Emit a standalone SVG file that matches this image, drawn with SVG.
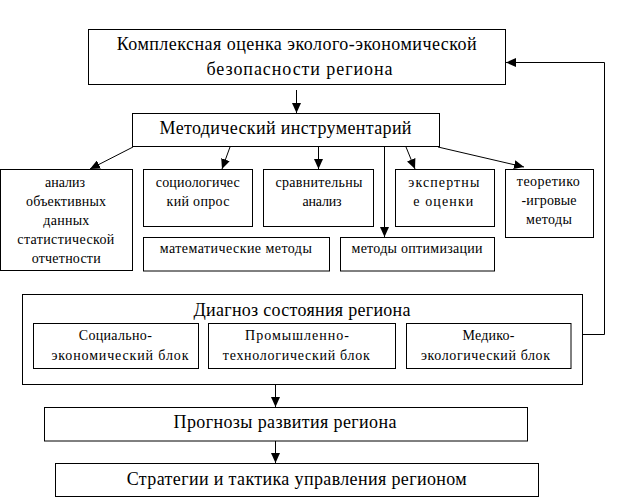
<svg xmlns="http://www.w3.org/2000/svg" width="644" height="503" viewBox="0 0 644 503" font-family="Liberation Serif, DejaVu Serif, serif">
<style>
rect{fill:#fff;stroke:#000;stroke-width:1}
.c line,.c polyline{stroke:#000;stroke-width:1;fill:none}
text{fill:#000;text-anchor:middle}
.b{font-size:18px}
.s{font-size:14px}
</style>
<defs>
<marker id="ah" markerUnits="userSpaceOnUse" markerWidth="11" markerHeight="9" refX="10" refY="4.5" orient="auto" viewBox="0 0 11 9">
<path d="M0,0 L10,4.5 L0,9 z" fill="#000"/>
</marker>
</defs>
<rect x="0" y="0" width="644" height="503" style="stroke:none"/>
<g id="n-top">
<rect x="88.5" y="29.5" width="417" height="55"/>
<text class="b" x="296.7" y="49.5" textLength="360">Комплексная оценка эколого-экономической</text>
<text class="b" x="299.5" y="74.5" textLength="186">безопасности региона</text>
</g>
<g id="n-method">
<rect x="132.5" y="113.5" width="307" height="33"/>
<text class="b" x="285.5" y="133.5" textLength="252">Методический инструментарий</text>
</g>
<g id="n-analysis">
<rect x="0.5" y="169.5" width="132" height="101"/>
<text class="s" x="65" y="186.7" textLength="40">анализ</text>
<text class="s" x="66" y="205.7" textLength="80">объективных</text>
<text class="s" x="66.3" y="224.7" textLength="46">данных</text>
<text class="s" x="65.8" y="243.5" textLength="97">статистической</text>
<text class="s" x="66.2" y="262.5" textLength="69">отчетности</text>
</g>
<g id="n-socio">
<rect x="143.5" y="169.5" width="109" height="57"/>
<text class="s" x="197.8" y="186.7" textLength="84">социологичес</text>
<text class="s" x="198" y="205.7" textLength="63">кий опрос</text>
</g>
<g id="n-compare">
<rect x="263.5" y="169.5" width="110" height="57"/>
<text class="s" x="319" y="186.7" textLength="87">сравнительны</text>
<text class="s" x="322" y="205.7" textLength="39">анализ</text>
</g>
<g id="n-expert">
<rect x="395.5" y="169.5" width="99" height="57"/>
<text class="s" x="443.8" y="186.7" textLength="71">экспертны</text>
<text class="s" x="443.3" y="205.7" textLength="60">е оценки</text>
</g>
<g id="n-game">
<rect x="505.5" y="169.5" width="88" height="68"/>
<text class="s" x="548.3" y="186" textLength="63">теоретико</text>
<text class="s" x="549" y="205.3" textLength="55">-игровые</text>
<text class="s" x="549" y="224.3" textLength="46">методы</text>
</g>
<g id="n-math">
<rect x="143.5" y="237.5" width="186" height="33.5"/>
<text class="s" x="235.8" y="252.7" textLength="152">математические методы</text>
</g>
<g id="n-optim">
<rect x="340.5" y="237.5" width="154" height="33.5"/>
<text class="s" x="417" y="252.7" textLength="131">методы оптимизации</text>
</g>
<g id="n-diag">
<rect x="22.5" y="294.5" width="560" height="90"/>
<text class="b" x="302" y="316" textLength="217">Диагноз состояния региона</text>
</g>
<g id="n-soc-econ">
<rect x="33.5" y="323.5" width="165" height="45"/>
<text class="s" x="115.3" y="340" textLength="73">Социально-</text>
<text class="s" x="120" y="360" textLength="137">экономический блок</text>
</g>
<g id="n-prom">
<rect x="208.5" y="323.5" width="187" height="45"/>
<text class="s" x="297" y="340" textLength="104">Промышленно-</text>
<text class="s" x="296.3" y="360" textLength="147">технологический блок</text>
</g>
<g id="n-med">
<rect x="406.5" y="323.5" width="164.5" height="45"/>
<text class="s" x="488.5" y="340" textLength="52">Медико-</text>
<text class="s" x="485.5" y="360" textLength="129">экологический блок</text>
</g>
<g id="n-prog">
<rect x="44.5" y="407.5" width="483" height="33.5"/>
<text class="b" x="285" y="428" textLength="223">Прогнозы развития региона</text>
</g>
<g id="n-strat">
<rect x="55.5" y="463.5" width="483" height="33"/>
<text class="b" x="296.7" y="484.5" textLength="340">Стратегии и тактика управления регионом</text>
</g>
<g id="connectors" class="c">
<line x1="296.5" y1="90" x2="296.5" y2="113" marker-end="url(#ah)"/>
<line x1="133" y1="147" x2="90" y2="169" marker-end="url(#ah)"/>
<line x1="230" y1="147" x2="222" y2="169" marker-end="url(#ah)"/>
<line x1="318.5" y1="147" x2="318.5" y2="169" marker-end="url(#ah)"/>
<line x1="384.5" y1="147" x2="384.5" y2="237" marker-end="url(#ah)"/>
<line x1="406" y1="147" x2="415" y2="169" marker-end="url(#ah)"/>
<line x1="438" y1="147" x2="524" y2="167" marker-end="url(#ah)"/>
<line x1="275.5" y1="385" x2="275.5" y2="407" marker-end="url(#ah)"/>
<line x1="275.5" y1="441" x2="275.5" y2="463" marker-end="url(#ah)"/>
<polyline points="583,334.5 604.5,334.5 604.5,62.5 506,62.5" marker-end="url(#ah)"/>
</g>
</svg>
